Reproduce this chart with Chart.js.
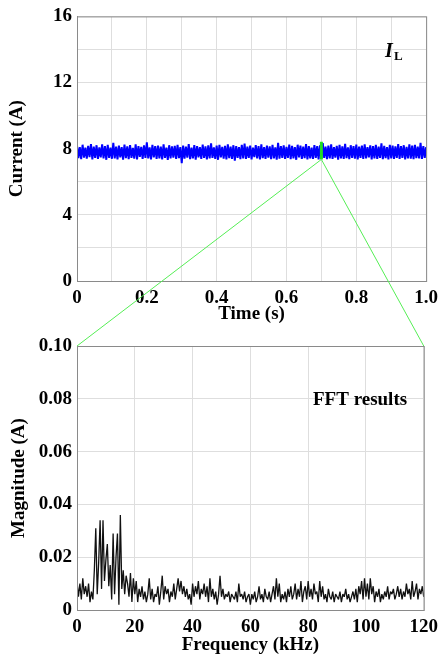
<!DOCTYPE html>
<html><head><meta charset="utf-8">
<script src="https://cdn.jsdelivr.net/npm/chart.js@4"></script>
<style>
html,body{margin:0;padding:0;background:#fff;}
#wrap{position:relative;width:444px;height:658px;overflow:hidden;}
#c1box{position:absolute;left:0;top:0;width:444px;height:325px;}
#c2box{position:absolute;left:0;top:322px;width:444px;height:336px;}
#ov{position:absolute;left:0;top:0;pointer-events:none;}
</style></head><body>
<div id="wrap">
<div id="c1box"><canvas id="c1"></canvas></div>
<div id="c2box"><canvas id="c2"></canvas></div>
<canvas id="ov" width="444" height="658"></canvas>
</div>
<script>
// ---- Data ----
const currentSampleStep = 0.004; // s
const currentSamples = [
8.19,7.43,8.10,7.37,8.24,7.46,8.06,7.40,8.17,7.49,
8.28,7.35,8.13,7.44,8.21,7.38,8.08,7.47,8.26,7.41,
8.15,7.33,8.23,7.45,8.07,7.39,8.36,7.42,8.12,7.36,
8.18,7.48,8.09,7.34,8.25,7.43,8.14,7.37,8.22,7.45,
8.05,7.40,8.27,7.35,8.16,7.50,8.11,7.38,8.20,7.44,
8.38,7.41,8.08,7.36,8.23,7.47,8.15,7.39,8.18,7.42,
8.12,7.35,8.26,7.45,8.07,7.33,8.21,7.41,8.14,7.46,
8.17,7.38,8.24,7.43,8.10,7.12,8.19,7.40,8.13,7.46,
8.28,7.37,8.06,7.42,8.22,7.34,8.16,7.48,8.09,7.39,
8.25,7.44,8.14,7.36,8.20,7.41,8.33,7.45,8.08,7.38,
8.18,7.33,8.23,7.47,8.11,7.40,8.17,7.35,8.27,7.43,
8.13,7.39,8.21,7.28,8.15,7.45,8.09,7.37,8.24,7.42,
8.31,7.38,8.12,7.44,8.19,7.36,8.07,7.49,8.22,7.41,
8.16,7.35,8.26,7.43,8.10,7.39,8.18,7.46,8.14,7.37,
8.23,7.42,8.08,7.34,8.35,7.40,8.15,7.45,8.20,7.38,
8.11,7.44,8.25,7.37,8.17,7.41,8.09,7.33,8.24,7.47,
8.18,7.39,8.13,7.43,8.28,7.36,8.16,7.42,8.07,7.38,
8.22,7.45,8.15,7.35,8.20,7.40,8.34,7.44,8.12,7.37,
8.19,7.41,8.26,7.38,8.10,7.46,8.17,7.34,8.23,7.42,
8.14,7.39,8.30,7.43,8.08,7.37,8.21,7.45,8.15,7.40,
8.25,7.36,8.12,7.44,8.18,7.38,8.27,7.41,8.09,7.47,
8.20,7.35,8.16,7.42,8.23,7.39,8.13,7.45,8.32,7.37,
8.17,7.43,8.10,7.36,8.24,7.41,8.19,7.38,8.14,7.44,
8.28,7.39,8.15,7.45,8.21,7.35,8.11,7.42,8.26,7.40,
8.18,7.37,8.23,7.43,8.12,7.41,8.36,7.38,8.16,7.45,
8.10];
const zoomTime = 0.7;           // s, FFT window
const zoomRange = [7.35, 8.42]; // A, highlighted segment

const fftStep = 0.5; // kHz
const fftMagnitude = [
0.011,0.005,0.010,0.004,0.012,0.006,0.009,0.005,0.010,0.003,
0.007,0.004,0.015,0.031,0.006,0.018,0.034,0.008,0.034,0.011,
0.019,0.025,0.009,0.017,0.004,0.029,0.006,0.020,0.029,0.002,
0.036,0.008,0.015,0.006,0.013,0.010,0.005,0.014,0.003,0.012,
0.006,0.011,0.003,0.008,0.005,0.009,0.004,0.007,0.003,0.006,
0.012,0.004,0.008,0.003,0.006,0.005,0.009,0.002,0.007,0.013,
0.004,0.009,0.006,0.008,0.003,0.007,0.005,0.010,0.004,0.008,
0.012,0.007,0.011,0.006,0.009,0.005,0.008,0.004,0.006,0.002,
0.010,0.005,0.009,0.006,0.011,0.004,0.008,0.006,0.010,0.005,
0.009,0.003,0.012,0.005,0.008,0.004,0.007,0.002,0.006,0.013,
0.005,0.008,0.004,0.006,0.005,0.007,0.003,0.006,0.005,0.004,
0.007,0.003,0.010,0.005,0.006,0.004,0.007,0.003,0.005,0.006,
0.002,0.006,0.004,0.007,0.003,0.005,0.009,0.004,0.006,0.003,
0.008,0.005,0.004,0.007,0.003,0.006,0.009,0.004,0.012,0.005,
0.010,0.003,0.006,0.004,0.007,0.003,0.008,0.005,0.009,0.004,
0.006,0.010,0.004,0.008,0.005,0.011,0.003,0.007,0.009,0.004,
0.011,0.005,0.008,0.004,0.010,0.006,0.007,0.003,0.011,0.005,
0.009,0.004,0.006,0.003,0.008,0.005,0.004,0.007,0.003,0.006,
0.005,0.004,0.007,0.003,0.006,0.005,0.008,0.004,0.006,0.003,
0.005,0.007,0.004,0.008,0.003,0.009,0.006,0.011,0.004,0.012,
0.005,0.010,0.004,0.012,0.006,0.009,0.003,0.007,0.005,0.008,
0.003,0.006,0.004,0.007,0.005,0.009,0.004,0.007,0.006,0.008,
0.004,0.006,0.009,0.005,0.008,0.004,0.007,0.005,0.010,0.006,
0.008,0.004,0.011,0.005,0.007,0.010,0.004,0.008,0.006,0.009,
0.005];

const topYTicks = [0, 4, 8, 12, 16];
const topXTicks = ['0', '0.2', '0.4', '0.6', '0.8', '1.0'];
const botYTicks = ['0', '0.02', '0.04', '0.06', '0.08', '0.10'];
const botXTicks = ['0', '20', '40', '60', '80', '100', '120'];

// ---- Charts ----
const FONT = '"Liberation Serif", "Times New Roman", serif';
const tickFont = {family: FONT, size: 19, weight: 'bold'};
const titleFont = {family: FONT, size: 19, weight: 'bold'};
const gridCol = '#dedede';

const framePlugin = {
  id: 'frame',
  afterDraw(chart, args, opts) {
    const {ctx, chartArea: a} = chart;
    ctx.save();
    ctx.strokeStyle = '#8a8a8a';
    ctx.lineWidth = 1;
    ctx.strokeRect(a.left + 0.5, a.top + 0.5, a.right - a.left, a.bottom - a.top);
    ctx.fillStyle = '#000';
    if (opts.kind === 'top') {
      ctx.font = 'italic bold 20px ' + FONT;
      ctx.fillText('I', 385, 57);
      ctx.font = 'bold 13px ' + FONT;
      ctx.fillText('L', 394, 60);
    } else {
      ctx.font = 'bold 19px ' + FONT;
      ctx.fillText('FFT results', 313, 83);
    }
    ctx.restore();
  }
};

const currentPoints = currentSamples.map((v, i) => ({x: i * currentSampleStep, y: v}));
const zoomPoints = zoomRange.map(v => ({x: zoomTime, y: v}));

const chart1 = new Chart(document.getElementById('c1'), {
  type: 'line',
  data: {datasets: [
    {data: zoomPoints, borderColor: '#22dd22', borderWidth: 3, pointRadius: 0},
    {data: currentPoints, borderColor: '#0000ff', borderWidth: 2, borderJoinStyle: 'bevel', pointRadius: 0, tension: 0}
  ]},
  options: {
    responsive: true, maintainAspectRatio: false, animation: false, devicePixelRatio: 1,
    layout: {padding: {top: 16, right: 15, left: 0, bottom: 0}},
    plugins: {legend: {display: false}, tooltip: {enabled: false}, frame: {kind: 'top'}},
    scales: {
      x: {type: 'linear', min: 0, max: 1,
        afterFit: s => { s.height = 44; },
        grid: {color: gridCol, drawTicks: false},
        border: {color: '#8a8a8a'},
        ticks: {stepSize: 0.1, autoSkip: false, maxRotation: 0, padding: 6, color: '#000', font: tickFont,
          callback: v => { const k = Math.round(v * 10); return k % 2 === 0 ? topXTicks[k / 2] : ''; }},
        title: {display: true, text: 'Time (s)', color: '#000', font: titleFont, padding: {top: 0, bottom: 0}}
      },
      y: {min: 0, max: 16,
        afterFit: s => { s.width = 77; },
        grid: {color: gridCol, drawTicks: false},
        border: {color: '#8a8a8a'},
        ticks: {stepSize: 2, autoSkip: false, padding: 5, color: '#000', font: tickFont,
          callback: v => topYTicks.includes(v) ? String(v) : ''},
        title: {display: true, text: 'Current (A)', color: '#000', font: titleFont, padding: {top: 6, bottom: 0}}
      }
    }
  },
  plugins: [framePlugin]
});

const fftPoints = fftMagnitude.map((v, i) => ({x: i * fftStep, y: v}));

const chart2 = new Chart(document.getElementById('c2'), {
  type: 'line',
  data: {datasets: [
    {data: fftPoints, borderColor: '#111', borderWidth: 1.3, borderJoinStyle: 'bevel', pointRadius: 0, tension: 0}
  ]},
  options: {
    responsive: true, maintainAspectRatio: false, animation: false, devicePixelRatio: 1,
    layout: {padding: {top: 24, right: 16, left: 0, bottom: 0}},
    plugins: {legend: {display: false}, tooltip: {enabled: false}, frame: {kind: 'bottom'}},
    scales: {
      x: {type: 'linear', min: 0, max: 120,
        afterFit: s => { s.height = 48; },
        grid: {color: gridCol, drawTicks: false},
        border: {color: '#8a8a8a'},
        ticks: {stepSize: 20, autoSkip: false, maxRotation: 0, padding: 6, color: '#000', font: tickFont,
          callback: v => botXTicks[Math.round(v / 20)]},
        title: {display: true, text: 'Frequency (kHz)', color: '#000', font: titleFont, padding: {top: 0, bottom: 2}}
      },
      y: {min: 0, max: 0.1,
        afterFit: s => { s.width = 77; },
        grid: {color: gridCol, drawTicks: false},
        border: {color: '#8a8a8a'},
        ticks: {stepSize: 0.02, autoSkip: false, padding: 5, color: '#000', font: tickFont,
          callback: v => botYTicks[Math.round(v / 0.02)]},
        title: {display: true, text: 'Magnitude (A)', color: '#000', font: titleFont, padding: {top: 8, bottom: 0}}
      }
    }
  },
  plugins: [framePlugin]
});

// ---- Zoom connector lines ----
function drawConnectors() {
  const ov = document.getElementById('ov').getContext('2d');
  ov.clearRect(0, 0, 444, 658);
  const off2 = document.getElementById('c2box').offsetTop;
  const px = chart1.scales.x.getPixelForValue(zoomTime);
  const py = chart1.scales.y.getPixelForValue(zoomRange[0]);
  const a = chart2.chartArea;
  ov.strokeStyle = '#55ee55';
  ov.lineWidth = 1;
  ov.beginPath();
  ov.moveTo(px, py); ov.lineTo(a.left, a.top + off2);
  ov.moveTo(px, py); ov.lineTo(a.right, a.top + off2);
  ov.stroke();
}
drawConnectors();
</script>
</body></html>
